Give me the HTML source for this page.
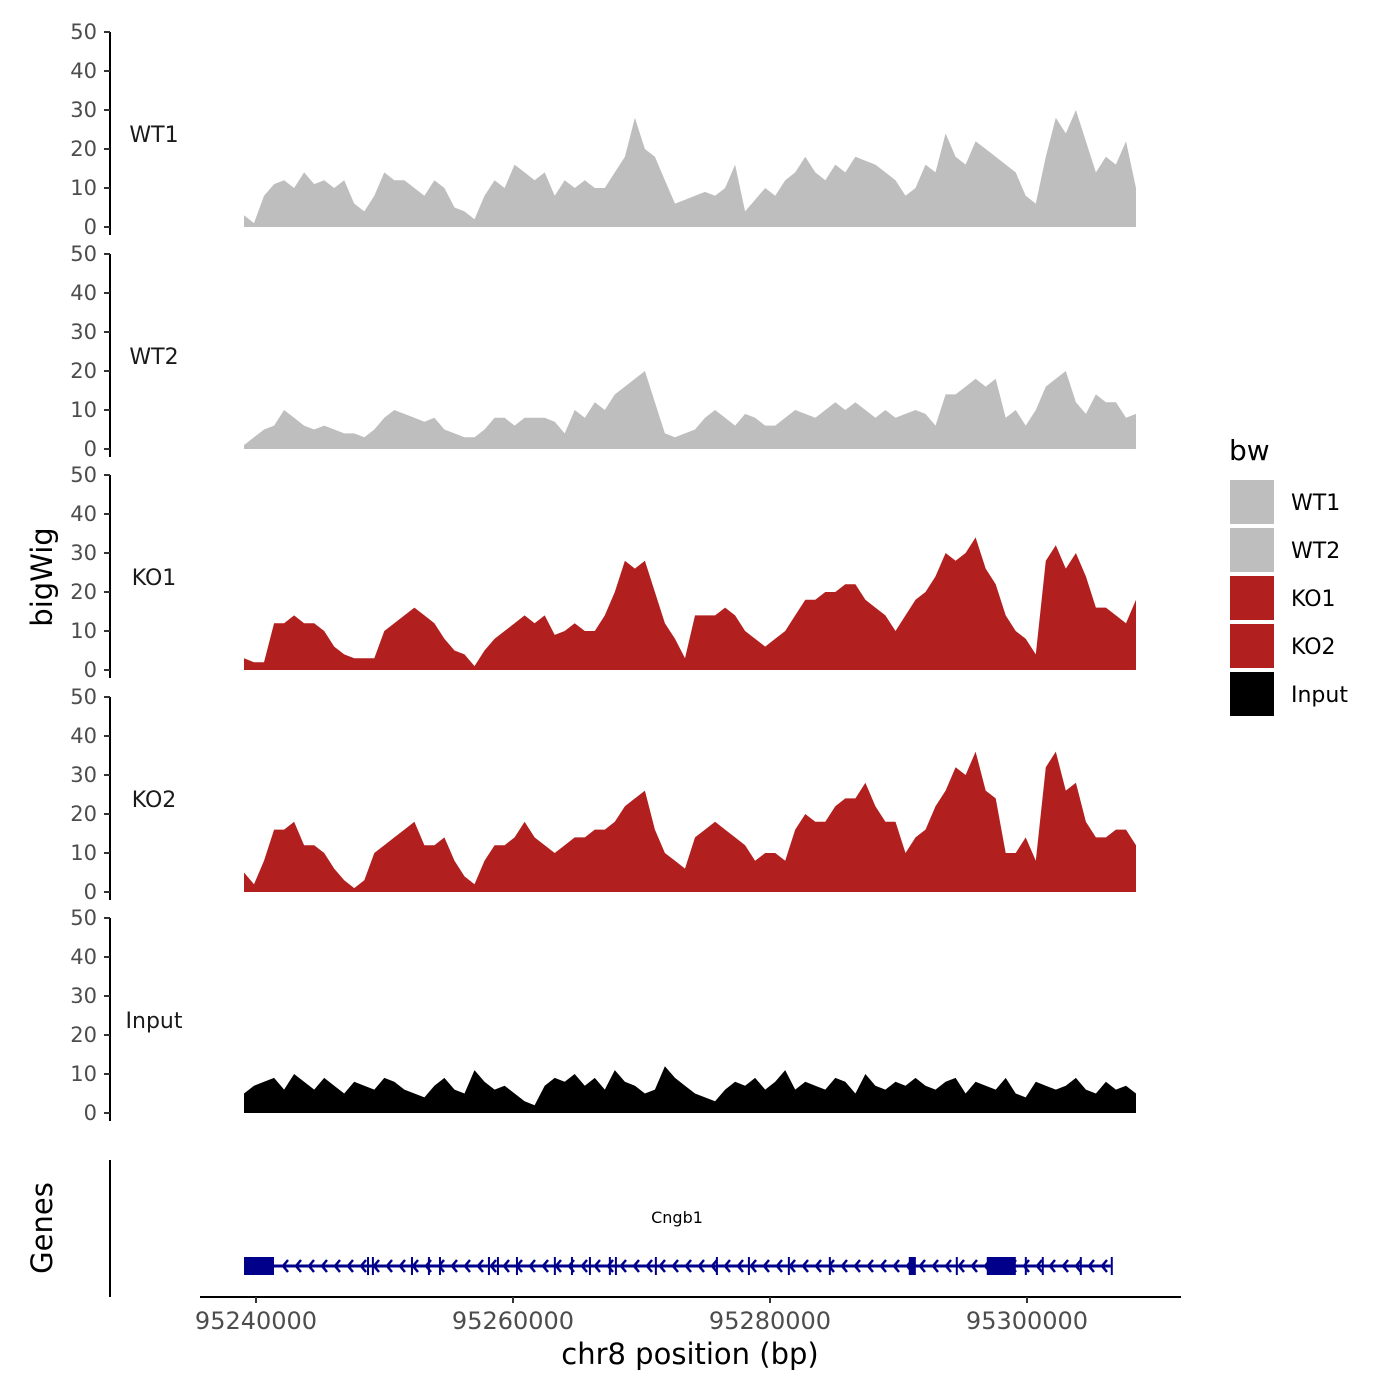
<!DOCTYPE html>
<html><head><meta charset="utf-8"><style>
html,body{margin:0;padding:0;background:#fff;}
svg{display:block;font-family:"DejaVu Sans","Liberation Sans",sans-serif;}
</style></head><body>
<svg id="chart" width="1400" height="1400" viewBox="0 0 1400 1400" xmlns="http://www.w3.org/2000/svg">
<rect width="1400" height="1400" fill="#fff"/>
<g id="tracks"></g>
<g id="genes"></g>
<g id="xaxis"></g>
<text transform="translate(52,577) rotate(-90)" text-anchor="middle" font-size="29" fill="#000">bigWig</text>
<text transform="translate(52,1228) rotate(-90)" text-anchor="middle" font-size="29" fill="#000">Genes</text>
<text x="690" y="1364" text-anchor="middle" font-size="29" fill="#000">chr8 position (bp)</text>
<g id="legend"></g>
</svg>
<script>
const trackNames = ["WT1","WT2","KO1","KO2","Input"];
const trackColors = ["#BEBEBE","#BEBEBE","#B21F1F","#B21F1F","#000000"];
const yTicks = [0,10,20,30,40,50];
const xTicks = [95240000,95260000,95280000,95300000];
const startBp = 95239066;
const endBp = 95308482;
const wt1 = [3,1,8,11,12,10,14,11,12,10,12,6,4,8,14,12,12,10,8,12,10,5,4,2,8,12,10,16,14,12,14,8,12,10,12,10,10,14,18,28,20,18,12,6,7,8,9,8,10,16,4,7,10,8,12,14,18,14,12,16,14,18,17,16,14,12,8,10,16,14,24,18,16,22,20,18,16,14,8,6,18,28,24,30,22,14,18,16,22,10];
const wt2 = [1,3,5,6,10,8,6,5,6,5,4,4,3,5,8,10,9,8,7,8,5,4,3,3,5,8,8,6,8,8,8,7,4,10,8,12,10,14,16,18,20,12,4,3,4,5,8,10,8,6,9,8,6,6,8,10,9,8,10,12,10,12,10,8,10,8,9,10,9,6,14,14,16,18,16,18,8,10,6,10,16,18,20,12,9,14,12,12,8,9];
const ko1 = [3,2,2,12,12,14,12,12,10,6,4,3,3,3,10,12,14,16,14,12,8,5,4,1,5,8,10,12,14,12,14,9,10,12,10,10,14,20,28,26,28,20,12,8,3,14,14,14,16,14,10,8,6,8,10,14,18,18,20,20,22,22,18,16,14,10,14,18,20,24,30,28,30,34,26,22,14,10,8,4,28,32,26,30,24,16,16,14,12,18];
const ko2 = [5,2,8,16,16,18,12,12,10,6,3,1,3,10,12,14,16,18,12,12,14,8,4,2,8,12,12,14,18,14,12,10,12,14,14,16,16,18,22,24,26,16,10,8,6,14,16,18,16,14,12,8,10,10,8,16,20,18,18,22,24,24,28,22,18,18,10,14,16,22,26,32,30,36,26,24,10,10,14,8,32,36,26,28,18,14,14,16,16,12];
const inputSig = [5,7,8,9,6,10,8,6,9,7,5,8,7,6,9,8,6,5,4,7,9,6,5,11,8,6,7,5,3,2,7,9,8,10,7,9,6,11,8,7,5,6,12,9,7,5,4,3,6,8,7,9,6,8,11,6,8,7,6,9,8,5,10,7,6,8,7,9,7,6,8,9,5,8,7,6,9,5,4,8,7,6,7,9,6,5,8,6,7,5];
const geneStart = 95239066;
const geneEnd = 95306520;
const exonStarts = [95239066,95248640,95249020,95252060,95253380,95254240,95258050,95258750,95260230,95263180,95264510,95265910,95267460,95267930,95271040,95275790,95278280,95281390,95284580,95290800,95294460,95296870,95299830,95301150,95304110,95306520];
const exonEnds   = [95241400,95248700,95249080,95252200,95253500,95254340,95258110,95258810,95260290,95263320,95264640,95266040,95267520,95267990,95271160,95275900,95278380,95281500,95284700,95291350,95294520,95299130,95299960,95301280,95304220,95306580];

const NS="http://www.w3.org/2000/svg";
function mk(tag,attrs,parent){const e=document.createElementNS(NS,tag);for(const k in attrs)e.setAttribute(k,attrs[k]);parent.appendChild(e);return e;}
function xScale(bp){return 256+(bp-95240000)*0.01285;}
const panelZero=[227,449,670,892,1113];
function yScale(i,v){return panelZero[i]-v*3.9;}
const series=[wt1,wt2,ko1,ko2,inputSig];
const tracksG=document.getElementById('tracks');
series.forEach((vals,i)=>{
  const g=mk('g',{},tracksG);
  
  
  const ax=mk('line',{x1:110,x2:110,y1:yScale(i,50),y2:panelZero[i]+8,stroke:'#000','stroke-width':2},g);
  
  
  yTicks.forEach(t=>{
    const y=yScale(i,t);
    const tk=mk('line',{x1:104,x2:110,y1:y,y2:y,stroke:'#333','stroke-width':2},g);
    
    
    const tl=mk('text',{x:97,y:y+7,'text-anchor':'end','font-size':21,fill:'#4D4D4D'},g);
    tl.textContent=t;
    
    
  });
  const lab=mk('text',{x:154,y:panelZero[i]-85,'text-anchor':'middle','font-size':22,fill:'#1A1A1A'},g);
  lab.textContent=trackNames[i];
  
  
  const n=vals.length;
  let d='M'+xScale(startBp)+','+panelZero[i];
  vals.forEach((v,j)=>{const bp=startBp+(endBp-startBp)*j/(n-1);d+=' L'+xScale(bp).toFixed(1)+','+yScale(i,v).toFixed(1);});
  d+=' L'+xScale(endBp)+','+panelZero[i]+' Z';
  const p=mk('path',{d:d,fill:trackColors[i]},g);
  
  
});
const gg=document.getElementById('genes');


const gax=mk('line',{x1:110,x2:110,y1:1160,y2:1297,stroke:'#000','stroke-width':2},gg);


const gl=mk('line',{x1:xScale(geneStart),x2:xScale(geneEnd),y1:1266,y2:1266,stroke:'#00008B','stroke-width':3},gg);


for(let x=xScale(geneStart)+40;x<xScale(geneEnd)-4;x+=13){
  const c=mk('path',{d:`M${x+4},${1260} L${x-1},${1266} L${x+4},${1272}`,stroke:'#00008B','stroke-width':2.5,fill:'none'},gg);
  
  
}
exonStarts.forEach((s,k)=>{
  const x1=xScale(s),x2=Math.max(xScale(exonEnds[k]),x1+2);
  const r=mk('rect',{x:x1,y:1257,width:x2-x1,height:18,fill:'#00008B'},gg);
  
  
});
const gname=mk('text',{x:677,y:1223,'text-anchor':'middle','font-size':16,fill:'#000'},gg);
gname.textContent='Cngb1';


const xg=document.getElementById('xaxis');


const xl=mk('line',{x1:200,x2:1181,y1:1297,y2:1297,stroke:'#000','stroke-width':2},xg);


xTicks.forEach(t=>{
  const x=xScale(t);
  const tk=mk('line',{x1:x,x2:x,y1:1297,y2:1303,stroke:'#333','stroke-width':2},xg);
  
  
  const tl=mk('text',{x:x,y:1329,'text-anchor':'middle','font-size':24,fill:'#4D4D4D'},xg);
  tl.textContent=t;
  
  
});
const lg=document.getElementById('legend');
const lt=mk('text',{x:1229,y:460,'font-size':28,fill:'#000'},lg);
lt.textContent='bw';


trackNames.forEach((nm,i)=>{
  const y=480+i*48;
  const r=mk('rect',{x:1230,y:y,width:44,height:44,fill:trackColors[i]},lg);
  
  
  const t=mk('text',{x:1291,y:y+30,'font-size':22,fill:'#000'},lg);
  t.textContent=nm;
  
  
});
</script>
</body></html>
